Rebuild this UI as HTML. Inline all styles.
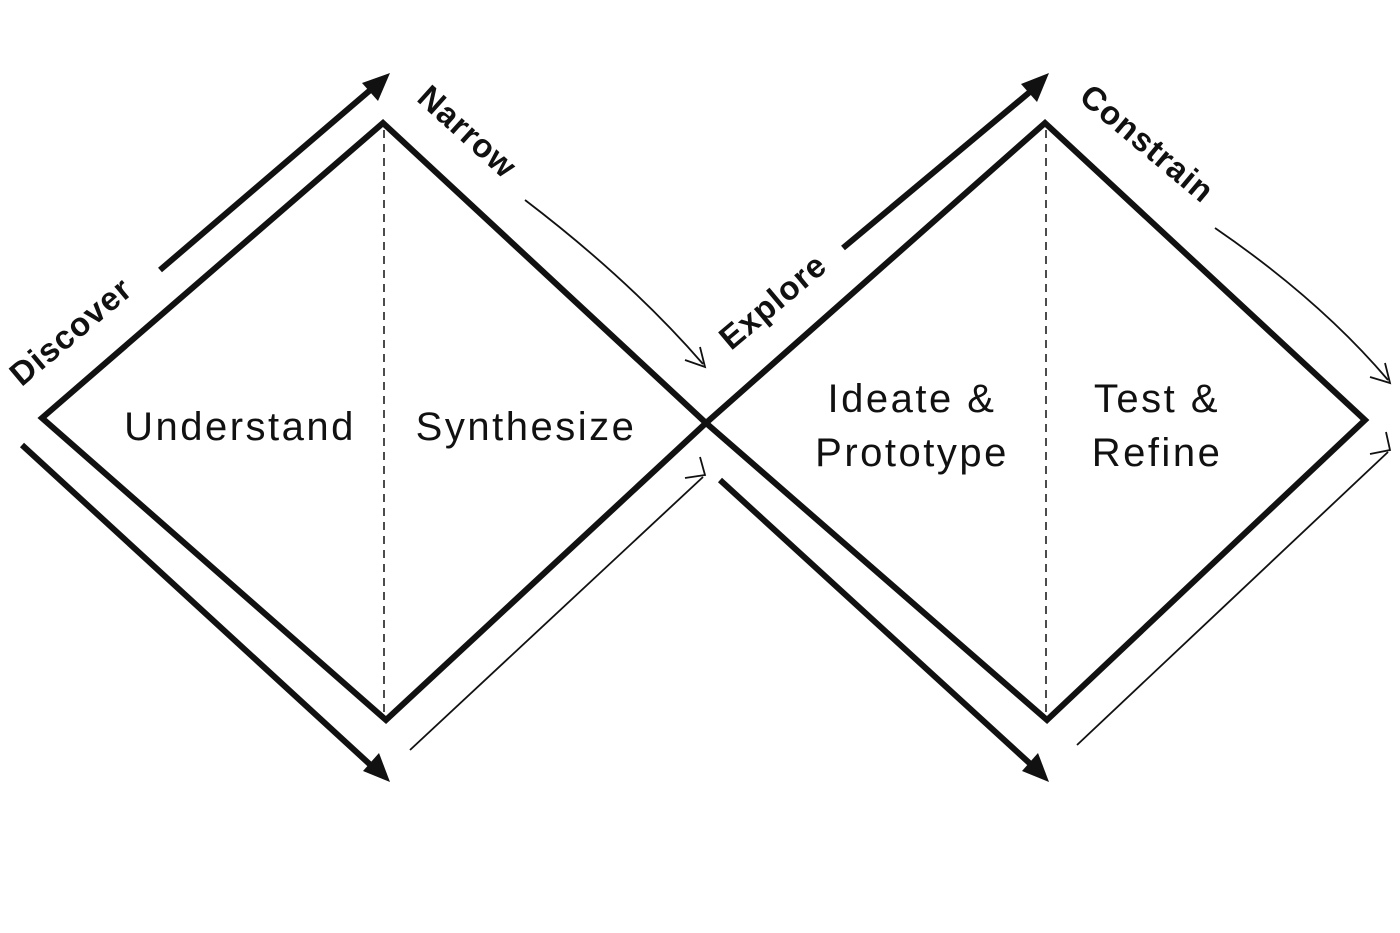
<!DOCTYPE html>
<html><head><meta charset="utf-8"><style>
html,body{margin:0;padding:0;background:#fff;}
svg{display:block;}
text{font-family:"Liberation Sans",sans-serif;fill:#111;}
</style></head><body>
<svg width="1400" height="933" viewBox="0 0 1400 933" xmlns="http://www.w3.org/2000/svg">
<g fill="none" stroke="#111" stroke-linejoin="miter">
<polygon points="42,418 383,123 706,423 386,720" stroke-width="6"/>
<polygon points="706,423 1045,123 1365,420 1047,720" stroke-width="6"/>
<line x1="384" y1="130" x2="384" y2="712" stroke-width="1.5" stroke-dasharray="8,6"/>
<line x1="1046" y1="130" x2="1046" y2="712" stroke-width="1.5" stroke-dasharray="8,6"/>
<line x1="160" y1="270" x2="375" y2="86" stroke-width="6"/>
<line x1="22" y1="445" x2="376" y2="770" stroke-width="6"/>
<line x1="843" y1="248" x2="1037" y2="86" stroke-width="6"/>
<line x1="720" y1="480" x2="1037" y2="770" stroke-width="6"/>
<path d="M525,200 Q630,280 703,364" stroke-width="1.8"/>
<line x1="410" y1="750" x2="703" y2="477" stroke-width="1.8"/>
<path d="M1215,228 Q1320,300 1388,380" stroke-width="1.8"/>
<line x1="1077" y1="745" x2="1388" y2="452" stroke-width="1.8"/>
</g>
<g fill="#111">
<polygon points="390,73 362,83 378,101"/>
<polygon points="390,782 363,771 379,753"/>
<polygon points="1049,73 1021,84 1037,102"/>
<polygon points="1049,782 1022,771 1038,753"/>
</g>
<g fill="none" stroke="#111" stroke-width="1.8">
<polyline points="685,360 705,367 700,347"/>
<polyline points="685,478 705,475 700,457"/>
<polyline points="1370,377 1390,383 1385,363"/>
<polyline points="1370,454 1390,450 1386,432"/>
</g>
<g font-weight="bold" font-size="33" letter-spacing="1">
<text transform="translate(78,340) rotate(-40)" text-anchor="middle">Discover</text>
<text transform="translate(460,140) rotate(42)" text-anchor="middle">Narrow</text>
<text transform="translate(780,310) rotate(-40)" text-anchor="middle">Explore</text>
<text transform="translate(1140,152) rotate(40)" text-anchor="middle">Constrain</text>
</g>
<g font-size="40" text-anchor="middle" letter-spacing="2.5">
<text x="240" y="440">Understand</text>
<text x="526" y="440">Synthesize</text>
<text x="912" y="412">Ideate &amp;</text>
<text x="912" y="466">Prototype</text>
<text x="1157" y="412">Test &amp;</text>
<text x="1157" y="466">Refine</text>
</g>
</svg>
</body></html>
